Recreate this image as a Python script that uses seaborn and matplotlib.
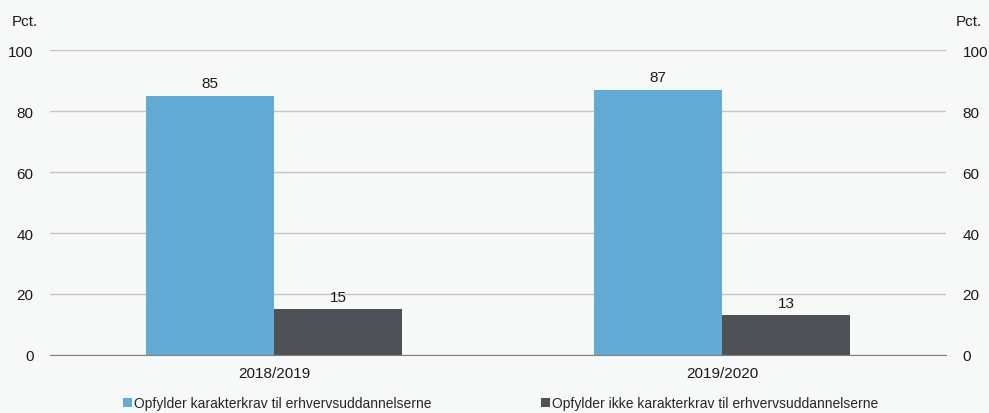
import seaborn as sns
import pandas as pd
import matplotlib.pyplot as plt

years = ['2018/2019', '2019/2020']
series = ['Opfylder karakterkrav til erhvervsuddannelserne',
          'Opfylder ikke karakterkrav til erhvervsuddannelserne']
opfylder = [85, 87]
opfylder_ikke = [15, 13]
y_ticks = [0, 20, 40, 60, 80, 100]

df = pd.DataFrame({
    'year': years * 2,
    'group': [series[0]] * 2 + [series[1]] * 2,
    'value': opfylder + opfylder_ikke,
})

sns.set_style('white')
plt.rcParams['font.family'] = ['Liberation Sans', 'DejaVu Sans']
bg = '#f7f8f8'

fig = plt.figure(figsize=(9.89, 4.14), dpi=100, facecolor=bg)
ax = fig.add_axes([0.0506, 0.1401, 0.9059, 0.7367])
ax.set_facecolor(bg)

sns.barplot(data=df, x='year', y='value', hue='group', hue_order=series,
            palette=['#63aad5', '#505156'], width=0.572, saturation=1,
            linewidth=0, ax=ax, legend=True)

for c in ax.containers:
    ax.bar_label(c, fmt='%d', padding=4, fontsize=11, color='#1a1a1a')

ax.set_ylim(0, 100)
ax.set_xlim(-0.5, 1.5)
ax.set_yticks(y_ticks)
ax.yaxis.grid(True, color='#c4c4c4', linewidth=1)
ax.set_axisbelow(True)
ax.set_xlabel('')
ax.set_ylabel('')
for s in ['top', 'left', 'right']:
    ax.spines[s].set_visible(False)
ax.spines['bottom'].set_color('#808080')
ax.tick_params(axis='y', length=0, labelsize=11, colors='#1a1a1a', pad=12)
ax.tick_params(axis='x', length=0, labelsize=11, colors='#1a1a1a', pad=8)
ax.set_xticks([-0.5, 0.5, 1.5], minor=True)
ax.tick_params(axis='x', which='minor', length=4, color='#808080', direction='out')

ax2 = ax.twinx()
ax2.set_ylim(0, 100)
ax2.set_yticks(y_ticks)
ax2.tick_params(axis='y', length=0, labelsize=11, colors='#1a1a1a', pad=12)
for s in ax2.spines.values():
    s.set_visible(False)

fig.text(0.012, 0.948, 'Pct.', fontsize=11, color='#1a1a1a', va='center')
fig.text(0.966, 0.948, 'Pct.', fontsize=11, color='#1a1a1a', va='center')

handles, labels = ax.get_legend_handles_labels()
ax.get_legend().remove()
fig.legend(handles, labels, loc='center', bbox_to_anchor=(0.506, 0.024),
           ncol=2, frameon=False, fontsize=10, handlelength=0.65,
           handleheight=0.65, handletextpad=0.15, columnspacing=7.9,
           borderpad=0.1)

fig.savefig('out.png', dpi=100, facecolor=bg)
